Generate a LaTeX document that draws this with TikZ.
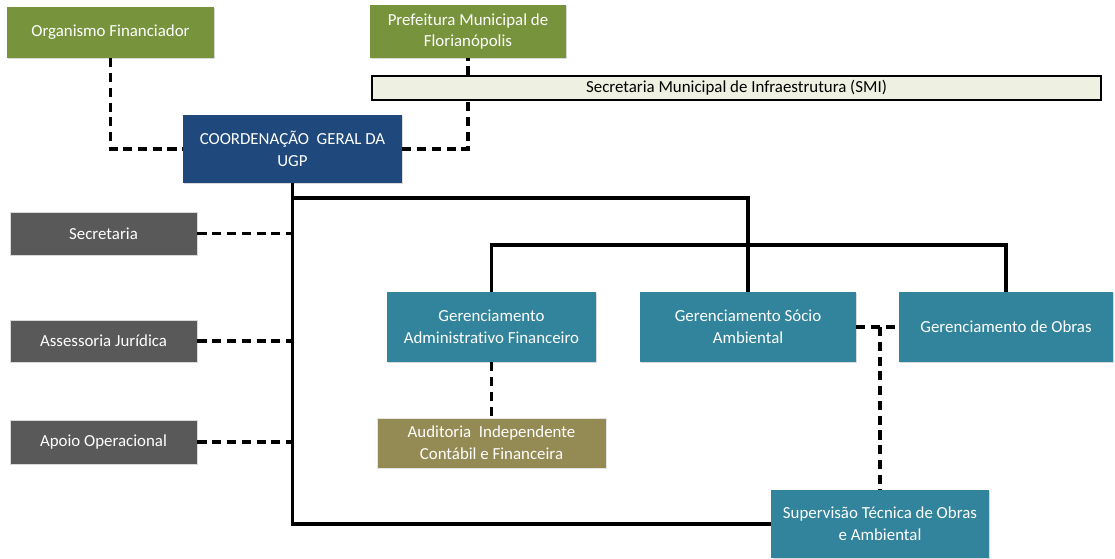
\documentclass[tikz,border=0pt]{standalone}
\usepackage{fontspec}
\setmainfont{Carlito}[Ligatures={NoCommon}]
\usepackage{tikz}
\usetikzlibrary{positioning, shadows}
\definecolor{verde}{HTML}{77933C}
\definecolor{azul}{HTML}{1F497D}
\definecolor{cinza}{HTML}{595959}
\definecolor{petroleo}{HTML}{31849B}
\definecolor{oliva}{HTML}{948A54}
\definecolor{creme}{HTML}{EEF1E2}
\tikzstyle{caixa} = [rectangle, inner sep=0pt, align=center, text=white, font=\fontsize{12}{15.5}\selectfont]
\tikzstyle{sombra} = [drop shadow={shadow xshift=0.8pt, shadow yshift=-0.9pt, opacity=0.3}]
\tikzstyle{externo} = [caixa, sombra, fill=verde]
\tikzstyle{coordena} = [caixa, sombra, fill=azul]
\tikzstyle{apoio} = [caixa, fill=cinza, draw=black!15, line width=0.6pt]
\tikzstyle{gerencia} = [caixa, sombra, fill=petroleo]
\tikzstyle{auditoria} = [caixa, fill=oliva, draw=black!10, line width=0.6pt]
\tikzstyle{faixa} = [rectangle, inner sep=0pt, text=black, fill=creme, draw=black, line width=0.9pt, font=\fontsize{12}{15.5}\selectfont]
\tikzstyle{linha} = [line width=2.5pt, -]
\tikzstyle{tracejado} = [line width=2.5pt, -, dash pattern=on 6.5pt off 4pt]

\begin{document}
\begin{tikzpicture}[x=0.025cm, y=-0.025cm]
\useasboundingbox (0,0) rectangle (1115,558);

\node(fin)[externo, minimum width=5.175cm, minimum height=1.275cm] at (110.5,32.5) {Organismo Financiador};
\node(pref)[externo, minimum width=4.9cm, minimum height=1.325cm] at (468,31.5) {Prefeitura Municipal de\\Florian\'opolis};
\node(smi)[faixa, minimum width=18.225cm, minimum height=0.6cm] at (736.5,88) {Secretaria Municipal de Infraestrutura (SMI)};
\node(coord)[coordena, minimum width=5.475cm, minimum height=1.7cm] at (292.5,149) {COORDENAÇÃO\ \ GERAL DA\\UGP};

\node(sec)[apoio, minimum width=4.675cm, minimum height=1.075cm] at (103.5,233.5) {Secretaria};
\node(ass)[apoio, minimum width=4.675cm, minimum height=1.05cm] at (103.5,341) {Assessoria Jurídica};
\node(apo)[apoio, minimum width=4.675cm, minimum height=1.1cm] at (103.5,442) {Apoio Operacional};

\node(gaf)[gerencia, minimum width=5.225cm, minimum height=1.75cm] at (491.5,327) {Gerenciamento\\Administrativo Financeiro};
\node(gsa)[gerencia, minimum width=5.4cm, minimum height=1.75cm] at (748,327) {Gerenciamento Sócio\\Ambiental};
\node(go)[gerencia, minimum width=5.35cm, minimum height=1.75cm] at (1006,327) {Gerenciamento de Obras};
\node(aud)[auditoria, minimum width=5.725cm, minimum height=1.25cm] at (491.5,443) {Auditoria\ \ Independente\\Contábil e Financeira};
\node(sup)[gerencia, minimum width=5.425cm, minimum height=1.7cm] at (880,524) {Supervisão Técnica de Obras\\e Ambiental};

\coordinate (ramo1) at (292.5,198);
\coordinate (ramo2) at (491.5,245);

% ligacoes externas
\draw [tracejado] (fin.south) |- (coord.west);
\draw [tracejado] (coord.east) -| (smi.south -| pref.south);
\draw [tracejado] (smi.north -| pref.south) -- (pref.south);

% estrutura da UGP
\draw [linha] (coord.south) |- (sup.west);
\draw [linha] (ramo1) -| (gsa.north);
\draw [linha] (gaf.north) -- (gaf.north |- ramo2) -| (go.north);

\draw [tracejado] (sec.east) -- (sec.east -| coord.south);
\draw [tracejado] (ass.east) -- (ass.east -| coord.south);
\draw [tracejado] (apo.east) -- (apo.east -| coord.south);

\draw [tracejado] (gaf.south) -- (aud.north);
\draw [tracejado] (gsa.east) -- (go.west);
\draw [tracejado] (sup.north |- gsa.east) -- (sup.north);
\end{tikzpicture}
\end{document}
